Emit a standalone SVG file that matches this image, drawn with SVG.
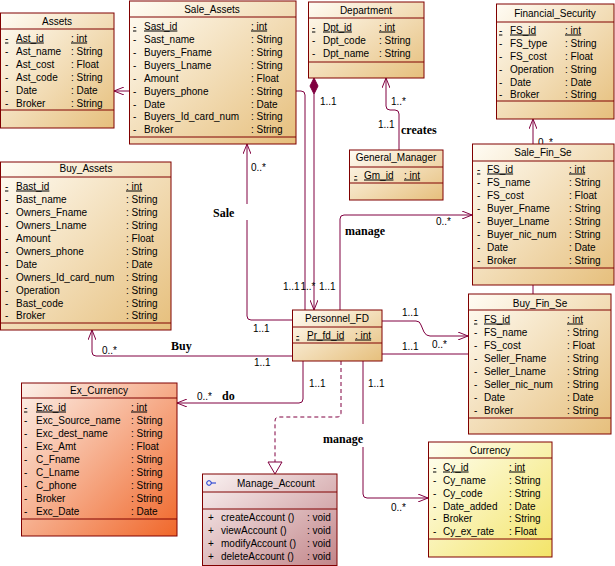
<svg xmlns="http://www.w3.org/2000/svg" width="615" height="566" viewBox="0 0 615 566">
<style>
.box{stroke:#800000;stroke-width:1}
.sep{stroke:#800000;stroke-width:1}
text{font-family:"Liberation Sans",Arial,sans-serif;font-size:10px;fill:#000}
.c{text-anchor:middle}
.u{text-decoration:underline}
.lbl{font-family:"Liberation Serif","Times New Roman",serif;font-weight:bold;font-size:12px}
.ln{fill:none;stroke:#800040;stroke-width:1}
.dash{stroke-dasharray:4,3}
</style>
<defs>
<linearGradient id="gB" x1="0" y1="0" x2="1" y2="1"><stop offset="0" stop-color="#fffcf4"/><stop offset="1" stop-color="#e6bf7c"/></linearGradient>
<linearGradient id="gO" x1="0" y1="0" x2="1" y2="1"><stop offset="0" stop-color="#fcf1ea"/><stop offset="1" stop-color="#f0672a"/></linearGradient>
<linearGradient id="gP" x1="0" y1="0" x2="1" y2="1"><stop offset="0" stop-color="#faf2f2"/><stop offset="1" stop-color="#c2868a"/></linearGradient>
<linearGradient id="gY" x1="0" y1="0" x2="1" y2="1"><stop offset="0" stop-color="#fffff4"/><stop offset="1" stop-color="#f3e468"/></linearGradient>
<marker id="arr" viewBox="0 0 10 8" refX="10" refY="4" markerWidth="10" markerHeight="8" markerUnits="userSpaceOnUse" orient="auto"><path d="M0,0 L10,4 L0,8" fill="none" stroke="#800040" stroke-width="1"/></marker>
</defs>
<rect width="615" height="566" fill="#fff"/>

<g id="connectors">
<path class="ln" d="M129,91 H114" marker-end="url(#arr)"/>
<path class="ln" d="M296,91 H301 Q305,91 305,95 V310"/>
<polygon points="314,78 318,86 314,94 310,86" fill="#800040" stroke="#800040"/>
<path class="ln" d="M314,94 V310" marker-end="url(#arr)"/>
<path class="ln" d="M247,204 V144" marker-end="url(#arr)"/>
<path class="ln" d="M292,320 H251 Q247,320 247,316 V220"/>
<path class="ln" d="M292,356 H96 Q92,356 92,352 V330" marker-end="url(#arr)"/>
<path class="ln" d="M303,361 V399 Q303,403 299,403 H177" marker-end="url(#arr)"/>
<path class="ln dash" d="M341,361 V413 Q341,417 337,417 H279 Q275,417 275,421 V462"/>
<polygon points="268,462 282,462 275,474" fill="#fff" stroke="#800040"/>
<path class="ln" d="M363,361 V424"/>
<path class="ln" d="M363,447 V494 Q363,498 367,498 H428" marker-end="url(#arr)"/>
<path class="ln" d="M340,310 V219 Q340,215 344,215 H472" marker-end="url(#arr)"/>
<path class="ln" d="M399,150 V114 Q399,110 395,110 H390 Q386,110 386,106 V78" marker-end="url(#arr)"/>
<path class="ln" d="M382,321 H416 Q420,321 421,325 L424,332 Q426,336 430,336 H468" marker-end="url(#arr)"/>
<path class="ln" d="M382,354 H468"/>
<path class="ln" d="M533,285 V294"/>
<path class="ln" d="M533,144 V119" marker-end="url(#arr)"/>
<text x="251" y="171">0..*</text>
<text x="253" y="332">1..1</text>
<text x="320" y="105">1..1</text>
<text x="283" y="290">1..1</text>
<text x="300.5" y="290">1..*</text>
<text x="319" y="290">1..1</text>
<text x="391" y="105">1..*</text>
<text x="378" y="128">1..1</text>
<text class="lbl" x="401" y="134">creates</text>
<text x="436" y="225">0..*</text>
<text class="lbl" x="345" y="235">manage</text>
<text class="lbl" x="213" y="217">Sale</text>
<text x="102" y="354">0..*</text>
<text class="lbl" x="171" y="350">Buy</text>
<text x="254" y="366">1..1</text>
<text x="309" y="387">1..1</text>
<text x="197" y="400">0..*</text>
<text class="lbl" x="222" y="400">do</text>
<text x="368" y="387">1..1</text>
<text class="lbl" x="323" y="443">manage</text>
<text x="391" y="511">0..*</text>
<text x="402" y="316">1..1</text>
<text x="432" y="348">0..*</text>
<text x="402" y="350">1..1</text>
<text x="538" y="146">0..*</text>
</g>

<g id="Assets">
<rect class="box" x="0.5" y="13" width="113.5" height="115" fill="url(#gB)"/>
<line class="sep" x1="0.5" y1="29" x2="114" y2="29"/>
<line class="sep" x1="0.5" y1="110" x2="114" y2="110"/>
<text class="c" x="57" y="24.5">Assets</text>
<text class="u" x="5" y="41.5">-</text><text class="u" x="16" y="41.5">Ast_id</text><text class="u" x="71" y="41.5">: int</text>
<text x="5" y="54.5">-</text><text x="16" y="54.5">Ast_name</text><text x="71" y="54.5">: String</text>
<text x="5" y="67.5">-</text><text x="16" y="67.5">Ast_cost</text><text x="71" y="67.5">: Float</text>
<text x="5" y="80.5">-</text><text x="16" y="80.5">Ast_code</text><text x="71" y="80.5">: String</text>
<text x="5" y="93.5">-</text><text x="16" y="93.5">Date</text><text x="71" y="93.5">: Date</text>
<text x="5" y="106.5">-</text><text x="16" y="106.5">Broker</text><text x="71" y="106.5">: String</text>
</g>

<g id="Sale_Assets">
<rect class="box" x="129.5" y="1" width="166.5" height="143" fill="url(#gB)"/>
<line class="sep" x1="129.5" y1="17" x2="296" y2="17"/>
<line class="sep" x1="129.5" y1="137" x2="296" y2="137"/>
<text class="c" x="212" y="12.5">Sale_Assets</text>
<text class="u" x="133" y="29.5">-</text><text class="u" x="144" y="29.5">Sast_id</text><text class="u" x="251" y="29.5">: int</text>
<text x="133" y="42.5">-</text><text x="144" y="42.5">Sast_name</text><text x="251" y="42.5">: String</text>
<text x="133" y="55.5">-</text><text x="144" y="55.5">Buyers_Fname</text><text x="251" y="55.5">: String</text>
<text x="133" y="68.5">-</text><text x="144" y="68.5">Buyers_Lname</text><text x="251" y="68.5">: String</text>
<text x="133" y="81.5">-</text><text x="144" y="81.5">Amount</text><text x="251" y="81.5">: Float</text>
<text x="133" y="94.5">-</text><text x="144" y="94.5">Buyers_phone</text><text x="251" y="94.5">: String</text>
<text x="133" y="107.5">-</text><text x="144" y="107.5">Date</text><text x="251" y="107.5">: Date</text>
<text x="133" y="120">-</text><text x="144" y="120">Buyers_Id_card_num</text><text x="251" y="120">: String</text>
<text x="133" y="132.5">-</text><text x="144" y="132.5">Broker</text><text x="251" y="132.5">: String</text>
</g>

<g id="Department">
<rect class="box" x="308.5" y="2" width="115.5" height="76" fill="url(#gB)"/>
<line class="sep" x1="308.5" y1="18" x2="424" y2="18"/>
<line class="sep" x1="308.5" y1="62" x2="424" y2="62"/>
<text class="c" x="366" y="14">Department</text>
<text class="u" x="312" y="30.5">-</text><text class="u" x="323" y="30.5">Dpt_id</text><text class="u" x="379" y="30.5">: int</text>
<text x="312" y="43.5">-</text><text x="323" y="43.5">Dpt_code</text><text x="379" y="43.5">: String</text>
<text x="312" y="56.5">-</text><text x="323" y="56.5">Dpt_name</text><text x="379" y="56.5">: String</text>
</g>

<g id="Financial_Security">
<rect class="box" x="496.5" y="4" width="117.5" height="115" fill="url(#gB)"/>
<line class="sep" x1="496.5" y1="22" x2="614" y2="22"/>
<line class="sep" x1="496.5" y1="101" x2="614" y2="101"/>
<text class="c" x="555" y="17">Financial_Security</text>
<text class="u" x="499" y="33.5">-</text><text class="u" x="510" y="33.5">FS_id</text><text class="u" x="565" y="33.5">: int</text>
<text x="499" y="46.5">-</text><text x="510" y="46.5">FS_type</text><text x="565" y="46.5">: String</text>
<text x="499" y="59.5">-</text><text x="510" y="59.5">FS_cost</text><text x="565" y="59.5">: Float</text>
<text x="499" y="72.5">-</text><text x="510" y="72.5">Operation</text><text x="565" y="72.5">: String</text>
<text x="499" y="85.5">-</text><text x="510" y="85.5">Date</text><text x="565" y="85.5">: Date</text>
<text x="499" y="97.5">-</text><text x="510" y="97.5">Broker</text><text x="565" y="97.5">: String</text>
</g>

<g id="Buy_Assets">
<rect class="box" x="0.5" y="162" width="170.5" height="168" fill="url(#gB)"/>
<line class="sep" x1="0.5" y1="177" x2="171" y2="177"/>
<line class="sep" x1="0.5" y1="323" x2="171" y2="323"/>
<text class="c" x="86" y="172">Buy_Assets</text>
<text class="u" x="5" y="189.5">-</text><text class="u" x="16" y="189.5">Bast_id</text><text class="u" x="126" y="189.5">: int</text>
<text x="5" y="202.5">-</text><text x="16" y="202.5">Bast_name</text><text x="126" y="202.5">: String</text>
<text x="5" y="215.5">-</text><text x="16" y="215.5">Owners_Fname</text><text x="126" y="215.5">: String</text>
<text x="5" y="228.5">-</text><text x="16" y="228.5">Owners_Lname</text><text x="126" y="228.5">: String</text>
<text x="5" y="241.5">-</text><text x="16" y="241.5">Amount</text><text x="126" y="241.5">: Float</text>
<text x="5" y="254.5">-</text><text x="16" y="254.5">Owners_phone</text><text x="126" y="254.5">: String</text>
<text x="5" y="267.5">-</text><text x="16" y="267.5">Date</text><text x="126" y="267.5">: Date</text>
<text x="5" y="280.5">-</text><text x="16" y="280.5">Owners_Id_card_num</text><text x="126" y="280.5">: String</text>
<text x="5" y="293.5">-</text><text x="16" y="293.5">Operation</text><text x="126" y="293.5">: String</text>
<text x="5" y="306.5">-</text><text x="16" y="306.5">Bast_code</text><text x="126" y="306.5">: String</text>
<text x="5" y="318.5">-</text><text x="16" y="318.5">Broker</text><text x="126" y="318.5">: String</text>
</g>

<g id="General_Manager">
<rect class="box" x="349.5" y="150" width="93.5" height="50" fill="url(#gB)"/>
<line class="sep" x1="349.5" y1="167" x2="443" y2="167"/>
<line class="sep" x1="349.5" y1="183" x2="443" y2="183"/>
<text class="c" x="396" y="161">General_Manager</text>
<text class="u" x="354" y="178.5">-</text><text class="u" x="364" y="178.5">Gm_id</text><text class="u" x="404" y="178.5">: int</text>
</g>

<g id="Sale_Fin_Se">
<rect class="box" x="472.5" y="144" width="141.5" height="141" fill="url(#gB)"/>
<line class="sep" x1="472.5" y1="161" x2="614" y2="161"/>
<line class="sep" x1="472.5" y1="268" x2="614" y2="268"/>
<text class="c" x="543" y="156">Sale_Fin_Se</text>
<text class="u" x="477" y="172.5">-</text><text class="u" x="487" y="172.5">FS_id</text><text class="u" x="569" y="172.5">: int</text>
<text x="477" y="185.5">-</text><text x="487" y="185.5">FS_name</text><text x="569" y="185.5">: String</text>
<text x="477" y="198.5">-</text><text x="487" y="198.5">FS_cost</text><text x="569" y="198.5">: Float</text>
<text x="477" y="211.5">-</text><text x="487" y="211.5">Buyer_Fname</text><text x="569" y="211.5">: String</text>
<text x="477" y="224.5">-</text><text x="487" y="224.5">Buyer_Lname</text><text x="569" y="224.5">: String</text>
<text x="477" y="237.5">-</text><text x="487" y="237.5">Buyer_nic_num</text><text x="569" y="237.5">: String</text>
<text x="477" y="250.5">-</text><text x="487" y="250.5">Date</text><text x="569" y="250.5">: Date</text>
<text x="477" y="263.5">-</text><text x="487" y="263.5">Broker</text><text x="569" y="263.5">: String</text>
</g>

<g id="Personnel_FD">
<rect class="box" x="292.5" y="310" width="89.5" height="51" fill="url(#gB)"/>
<line class="sep" x1="292.5" y1="327" x2="382" y2="327"/>
<line class="sep" x1="292.5" y1="343" x2="382" y2="343"/>
<text class="c" x="337" y="322">Personnel_FD</text>
<text class="u" x="296" y="338.5">-</text><text class="u" x="307" y="338.5">Pr_fd_id</text><text class="u" x="355" y="338.5">: int</text>
</g>

<g id="Buy_Fin_Se">
<rect class="box" x="468.5" y="294" width="142.5" height="140" fill="url(#gB)"/>
<line class="sep" x1="468.5" y1="310" x2="611" y2="310"/>
<line class="sep" x1="468.5" y1="418" x2="611" y2="418"/>
<text class="c" x="540" y="306.5">Buy_Fin_Se</text>
<text class="u" x="474" y="322.5">-</text><text class="u" x="484" y="322.5">FS_id</text><text class="u" x="567" y="322.5">: int</text>
<text x="474" y="335.5">-</text><text x="484" y="335.5">FS_name</text><text x="567" y="335.5">: String</text>
<text x="474" y="348.5">-</text><text x="484" y="348.5">FS_cost</text><text x="567" y="348.5">: Float</text>
<text x="474" y="361.5">-</text><text x="484" y="361.5">Seller_Fname</text><text x="567" y="361.5">: String</text>
<text x="474" y="374.5">-</text><text x="484" y="374.5">Seller_Lname</text><text x="567" y="374.5">: String</text>
<text x="474" y="387.5">-</text><text x="484" y="387.5">Seller_nic_num</text><text x="567" y="387.5">: String</text>
<text x="474" y="400.5">-</text><text x="484" y="400.5">Date</text><text x="567" y="400.5">: Date</text>
<text x="474" y="413.5">-</text><text x="484" y="413.5">Broker</text><text x="567" y="413.5">: String</text>
</g>

<g id="Ex_Currency">
<rect class="box" x="21.5" y="383" width="155.5" height="153" fill="url(#gO)"/>
<line class="sep" x1="21.5" y1="398" x2="177" y2="398"/>
<line class="sep" x1="21.5" y1="519" x2="177" y2="519"/>
<text class="c" x="99" y="394">Ex_Currency</text>
<text class="u" x="24" y="410.5">-</text><text class="u" x="36" y="410.5">Exc_id</text><text class="u" x="131" y="410.5">: int</text>
<text x="24" y="423.5">-</text><text x="36" y="423.5">Exc_Source_name</text><text x="131" y="423.5">: String</text>
<text x="24" y="436.5">-</text><text x="36" y="436.5">Exc_dest_name</text><text x="131" y="436.5">: String</text>
<text x="24" y="449.5">-</text><text x="36" y="449.5">Exc_Amt</text><text x="131" y="449.5">: Float</text>
<text x="24" y="462.5">-</text><text x="36" y="462.5">C_Fname</text><text x="131" y="462.5">: String</text>
<text x="24" y="475.5">-</text><text x="36" y="475.5">C_Lname</text><text x="131" y="475.5">: String</text>
<text x="24" y="488.5">-</text><text x="36" y="488.5">C_phone</text><text x="131" y="488.5">: String</text>
<text x="24" y="501.5">-</text><text x="36" y="501.5">Broker</text><text x="131" y="501.5">: String</text>
<text x="24" y="514.5">-</text><text x="36" y="514.5">Exc_Date</text><text x="131" y="514.5">: Date</text>
</g>

<g id="Manage_Account">
<rect class="box" x="202.5" y="474" width="134.5" height="91.5" fill="url(#gP)"/>
<line class="sep" x1="202.5" y1="492" x2="337" y2="492"/>
<line class="sep" x1="202.5" y1="509" x2="337" y2="509"/>
<circle cx="209" cy="483" r="2.3" fill="none" stroke="#1030d0" stroke-width="1"/>
<line x1="211.3" y1="483" x2="216" y2="483" stroke="#1030d0" stroke-width="1"/>
<text x="237" y="487">Manage_Account</text>
<text x="208" y="520.5">+</text><text x="221" y="520.5">createAccount ()</text><text x="307" y="520.5">: void</text>
<text x="208" y="533.5">+</text><text x="221" y="533.5">viewAccount ()</text><text x="307" y="533.5">: void</text>
<text x="208" y="546.5">+</text><text x="221" y="546.5">modifyAccount ()</text><text x="307" y="546.5">: void</text>
<text x="208" y="559.5">+</text><text x="221" y="559.5">deleteAccount ()</text><text x="307" y="559.5">: void</text>
</g>

<g id="Currency">
<rect class="box" x="428.5" y="442" width="123.5" height="115" fill="url(#gY)"/>
<line class="sep" x1="428.5" y1="458" x2="552" y2="458"/>
<line class="sep" x1="428.5" y1="539" x2="552" y2="539"/>
<text class="c" x="490" y="454">Currency</text>
<text class="u" x="433" y="470.5">-</text><text class="u" x="443" y="470.5">Cy_id</text><text class="u" x="509" y="470.5">: int</text>
<text x="433" y="483.5">-</text><text x="443" y="483.5">Cy_name</text><text x="509" y="483.5">: String</text>
<text x="433" y="496.5">-</text><text x="443" y="496.5">Cy_code</text><text x="509" y="496.5">: String</text>
<text x="433" y="509.5">-</text><text x="443" y="509.5">Date_added</text><text x="509" y="509.5">: Date</text>
<text x="433" y="521.5">-</text><text x="443" y="521.5">Broker</text><text x="509" y="521.5">: String</text>
<text x="433" y="534.5">-</text><text x="443" y="534.5">Cy_ex_rate</text><text x="509" y="534.5">: Float</text>
</g>
</svg>
